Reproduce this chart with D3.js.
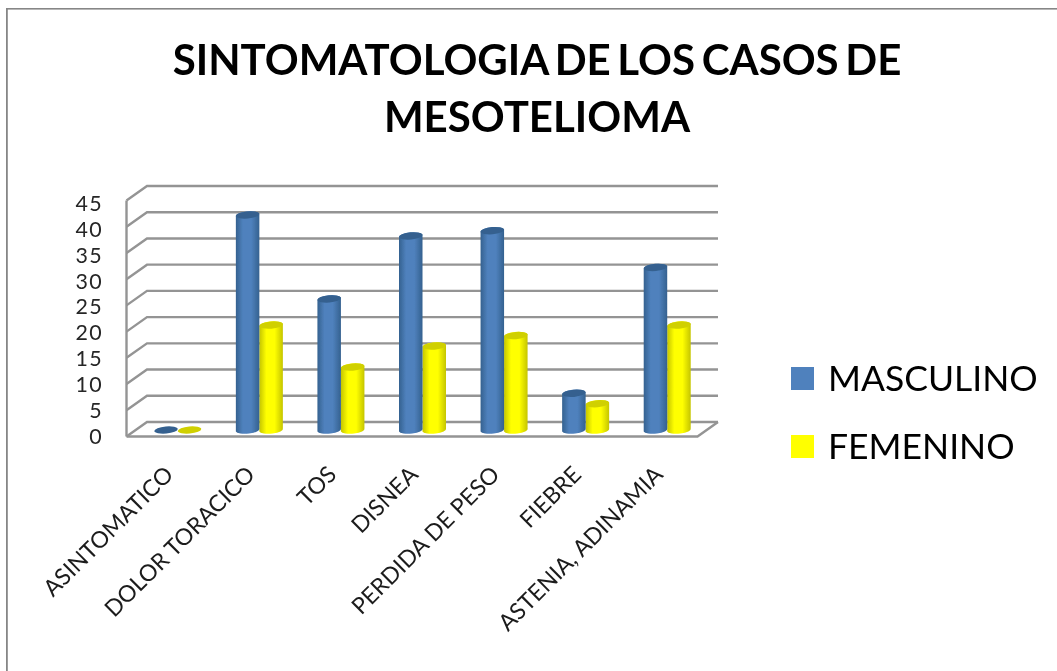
<!DOCTYPE html>
<html>
<head>
<meta charset="utf-8">
<script src="https://cdn.jsdelivr.net/npm/d3@7"></script>
<style>
  html, body { margin: 0; padding: 0; background: #fff; }
  text { font-family: Lato, "Open Sans", sans-serif; }
</style>
</head>
<body>
<div id="chart"></div>
<script>
var categories = ["ASINTOMATICO", "DOLOR TORACICO", "TOS", "DISNEA", "PERDIDA DE PESO", "FIEBRE", "ASTENIA, ADINAMIA"];
var seriesNames = ["MASCULINO", "FEMENINO"];
var masculino = [0, 41, 25, 37, 38, 7, 31];
var femenino = [0, 20, 12, 16, 18, 5, 20];
var yTicks = [0, 5, 10, 15, 20, 25, 30, 35, 40, 45];
var titleLines = ["SINTOMATOLOGIA DE LOS CASOS DE", "MESOTELIOMA"];

var svgWidth = 1057;
var svgHeight = 671;

var svg = d3.select("#chart")
  .append("svg")
  .attr("width", svgWidth)
  .attr("height", svgHeight)
  .style("display", "block");

var defs = svg.append("defs");

// the reference is a soft, scaled up screenshot
defs.append("filter")
  .attr("id", "soft")
  .attr("x", 0).attr("y", 0).attr("width", 1).attr("height", 1)
  .append("feGaussianBlur")
  .attr("stdDeviation", 0.45);

// side shading of the cylinders
function addGradient(id, edge, mid) {
  var g = defs.append("linearGradient").attr("id", id);
  g.append("stop").attr("offset", "0%").attr("stop-color", edge);
  g.append("stop").attr("offset", "30%").attr("stop-color", mid);
  g.append("stop").attr("offset", "65%").attr("stop-color", mid);
  g.append("stop").attr("offset", "100%").attr("stop-color", edge);
}
addGradient("blueBar", "#34618f", "#4f81bd");
addGradient("yellowBar", "#c4c400", "#ffff00");

var root = svg.append("g").attr("filter", "url(#soft)");

// chart frame
root.append("rect")
  .attr("x", 6.5)
  .attr("y", 8.3)
  .attr("width", svgWidth)
  .attr("height", svgHeight)
  .attr("fill", "#fff")
  .attr("stroke", "#868686")
  .attr("stroke-width", 2.6);

// title
root.append("g").selectAll("text")
  .data(titleLines)
  .enter()
  .append("text")
  .attr("x", 537)
  .attr("y", (d, i) => 75 + i * 57)
  .attr("text-anchor", "middle")
  .attr("font-size", "42px")
  .attr("font-weight", "bold")
  .attr("word-spacing", "-3.6px")
  .attr("fill", "#000")
  .text(d => d);

// scales, back wall gives the value scale
var yScale = d3.scaleLinear().domain([0, 45]).range([422, 186]);
var labelScale = d3.scaleLinear().domain([0, 45]).range([436.5, 203]);
var depthX = 20.5;
var depthY = 14.5;
var wallLeft = 147;
var wallRight = 718;

var xScale = d3.scaleBand().domain(categories).range([137, 708]);
var seriesScale = d3.scaleBand().domain(seriesNames).range([-23.5, 23.5]);

// grid
var grid = root.append("g")
  .attr("fill", "none")
  .attr("stroke", "#949494")
  .attr("stroke-width", 2.4);

grid.selectAll("path.gridline")
  .data(yTicks)
  .enter()
  .append("path")
  .attr("class", "gridline")
  .attr("d", d => d3.line()([
    [wallLeft - depthX, yScale(d) + depthY],
    [wallLeft, yScale(d)],
    [wallRight, yScale(d)]
  ]));

// left wall edge and floor
grid.append("path")
  .attr("d", d3.line()([[wallLeft - depthX, yScale(45) + depthY], [wallLeft - depthX, yScale(0) + depthY]]));
grid.append("path")
  .attr("d", d3.line()([
    [wallLeft - depthX, yScale(0) + depthY],
    [wallRight - depthX, yScale(0) + depthY],
    [wallRight, yScale(0)]
  ]));

// y labels
root.append("g").selectAll("text")
  .data(yTicks)
  .enter()
  .append("text")
  .attr("x", 103)
  .attr("y", d => labelScale(d))
  .attr("dy", "0.36em")
  .attr("text-anchor", "end")
  .attr("font-size", "21.4px")
  .attr("letter-spacing", "1.4px")
  .attr("fill", "#262626")
  .text(d => d);

// bars
var baseY = yScale(0) + 8;
var rx = seriesScale.bandwidth() / 2;
var ry = 3.6;
var tilt = 1.4;

function cylinder(x0, x1, top, bottom) {
  return "M" + x0 + "," + (top + tilt) +
    "A" + rx + "," + ry + " -5 0 1 " + x1 + "," + (top - tilt) +
    "L" + x1 + "," + (bottom - tilt) +
    "A" + rx + "," + ry + " -5 0 1 " + x0 + "," + (bottom + tilt) + "Z";
}

function drawSeries(values, name, gradient, capColor) {
  var g = root.append("g");
  var rows = values.map((v, i) => ({
    value: v,
    x: xScale(categories[i]) + xScale.bandwidth() / 2 + seriesScale(name),
    top: baseY - (yScale(0) - yScale(v))
  }));

  g.selectAll("path.side")
    .data(rows.filter(d => d.value > 0))
    .enter()
    .append("path")
    .attr("class", "side")
    .attr("fill", `url(#${gradient})`)
    .attr("d", d => cylinder(d.x, d.x + rx * 2, d.top, baseY));

  g.selectAll("ellipse")
    .data(rows)
    .enter()
    .append("ellipse")
    .attr("rx", rx)
    .attr("ry", ry)
    .attr("fill", capColor)
    .attr("transform", d => `translate(${d.x + rx}, ${d.top}) rotate(-5)`);
}

// female first so the male caps stay clean on the shared edge
drawSeries(femenino, "FEMENINO", "yellowBar", "#d0d000");
drawSeries(masculino, "MASCULINO", "blueBar", "#34618f");

// category labels
root.append("g").selectAll("text")
  .data(categories)
  .enter()
  .append("text")
  .attr("text-anchor", "end")
  .attr("font-size", "23px")
  .attr("fill", "#1a1a1a")
  .attr("transform", d => `translate(${xScale(d) + xScale.bandwidth() / 2 - 3}, 476) rotate(-45)`)
  .text(d => d);

// legend
var legendColors = ["#4f81bd", "#ffff00"];
var legendY = d3.scaleOrdinal().domain(seriesNames).range([378, 446]);

var legend = root.append("g").selectAll("g")
  .data(seriesNames)
  .enter()
  .append("g")
  .attr("transform", d => `translate(0, ${legendY(d)})`);

legend.append("rect")
  .attr("x", 791)
  .attr("y", -11)
  .attr("width", 23)
  .attr("height", 23)
  .attr("fill", (d, i) => legendColors[i]);

legend.append("text")
  .attr("x", 828)
  .attr("y", 12.7)
  .attr("font-size", "35.5px")
  .attr("fill", "#000")
  .text(d => d);
</script>
</body>
</html>
